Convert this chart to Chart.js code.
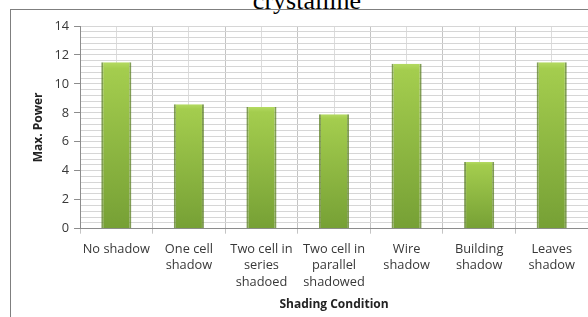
<!DOCTYPE html>
<html>
<head>
<meta charset="utf-8">
<script src="https://cdn.jsdelivr.net/npm/chart.js@4.4.1/dist/chart.umd.min.js"></script>
<style>
  html, body { margin: 0; padding: 0; background: #fff; overflow: hidden; }
  body { width: 588px; height: 317px; position: relative; }
  #title { position: absolute; left: 13px; width: 588px; top: -12px; text-align: center;
           font-family: "Liberation Serif", "DejaVu Serif", serif; font-size: 26px; line-height: 26px; color: #000; }
  #frame { position: absolute; left: 10px; top: 9px; width: 578px; height: 308px;
           border-top: 1px solid #7f7f7f; border-left: 1px solid #7f7f7f; }
  #wrap { position: absolute; left: 11px; top: 10px; width: 577px; height: 307px; }
</style>
</head>
<body>
<div id="title">crystalline</div>
<div id="frame"></div>
<div id="wrap"><canvas id="myChart"></canvas></div>
<script>
var categories = [
    'No shadow',
    ['One cell', 'shadow'],
    ['Two cell in', 'series', 'shadoed'],
    ['Two cell in', 'parallel', 'shadowed'],
    ['Wire', 'shadow'],
    ['Building', 'shadow'],
    ['Leaves', 'shadow']
];
var maxPower = [11.5, 8.6, 8.4, 7.9, 11.4, 4.6, 11.5];
var yTicks = [0, 2, 4, 6, 8, 10, 12, 14];

function isMajor(v) {
    for (var i = 0; i < yTicks.length; i++) {
        if (Math.abs(v - yTicks[i]) < 1e-6) return true;
    }
    return false;
}

function barFill(context) {
    var chart = context.chart;
    if (!chart.chartArea || !chart.scales.y) return '#8fbc43';
    var y = chart.scales.y;
    var top = y.getPixelForValue(context.raw);
    var base = y.getPixelForValue(0);
    var g = chart.ctx.createLinearGradient(0, top, 0, base);
    g.addColorStop(0, '#b4da62');
    g.addColorStop(0.04, '#a4cd4e');
    g.addColorStop(1, '#76a035');
    return g;
}

function load() {
    var ctx = document.getElementById('myChart').getContext('2d');
    var tickFont = { family: 'Open Sans', size: 12.8, lineHeight: 1.3 };
    var myChart = new Chart(ctx, {
        type: 'bar',
        data: {
            labels: categories,
            datasets: [{
                label: 'Max. Power',
                data: maxPower,
                backgroundColor: barFill,
                borderColor: 'rgba(88,125,30,0.75)',
                borderWidth: { left: 2, right: 2, top: 0, bottom: 0 },
                borderSkipped: false,
                categoryPercentage: 1,
                barPercentage: 0.415
            }]
        },
        options: {
            responsive: true,
            maintainAspectRatio: false,
            animation: false,
            layout: { padding: { top: 16, left: 20, right: 0, bottom: 5 } },
            plugins: {
                legend: { display: false },
                tooltip: { enabled: false }
            },
            scales: {
                x: {
                    offset: true,
                    grid: {
                        offset: true,
                        color: '#c4c4c4',
                        tickLength: 5,
                        tickColor: '#c4c4c4'
                    },
                    border: { color: '#8c8c8c' },
                    ticks: {
                        font: tickFont,
                        color: '#383838',
                        padding: 7,
                        maxRotation: 0,
                        autoSkip: false
                    },
                    title: {
                        display: true,
                        text: 'Shading Condition',
                        font: { family: 'Open Sans', size: 12, weight: 'bold' },
                        color: '#222',
                        padding: { top: 0, bottom: 0 }
                    }
                },
                x2: {
                    type: 'category',
                    position: 'top',
                    labels: categories,
                    offset: true,
                    grid: { offset: false, color: '#dcdcdc', drawTicks: false },
                    border: { display: false },
                    ticks: { display: false }
                },
                y: {
                    min: 0,
                    max: 14,
                    ticks: {
                        stepSize: 0.4,
                        autoSkip: false,
                        font: tickFont,
                        color: '#383838',
                        padding: 5,
                        callback: function (v) { return isMajor(v) ? String(Math.round(v)) : ''; }
                    },
                    grid: {
                        color: '#d6d6d6',
                        tickLength: 6,
                        tickColor: function (c) { return isMajor(c.tick.value) ? '#8c8c8c' : 'rgba(0,0,0,0)'; }
                    },
                    border: { color: '#8c8c8c' },
                    title: {
                        display: true,
                        text: 'Max. Power',
                        font: { family: 'Open Sans', size: 12, weight: 'bold' },
                        color: '#222',
                        padding: { top: 0, bottom: 4 }
                    }
                }
            }
        }
    });
}

window.onload = load;
</script>
</body>
</html>
